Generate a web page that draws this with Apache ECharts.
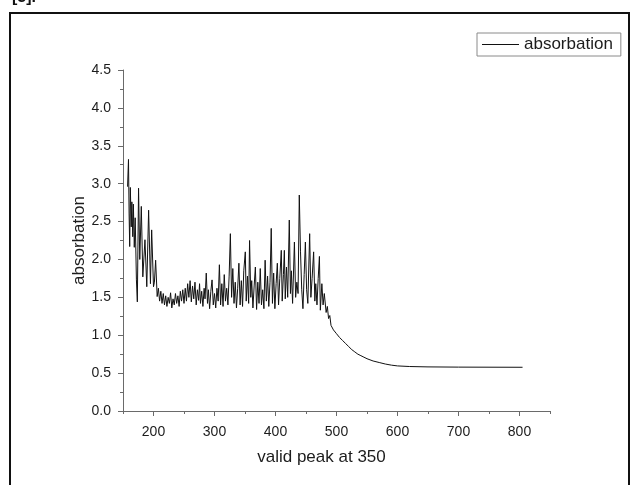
<!DOCTYPE html>
<html>
<head>
<meta charset="utf-8">
<script src="https://cdn.jsdelivr.net/npm/echarts@6/dist/echarts.min.js"></script>
<style>
html,body{margin:0;padding:0;background:#fff;}
#chart{width:632px;height:485px;}
</style>
</head>
<body>
<div id="chart"></div>
<script>
// ---- data ----
const seriesName = 'absorbation';
const xAxisTitle = 'valid peak at 350';
const yAxisTitle = 'absorbation';
const xMajorTicks = [200, 300, 400, 500, 600, 700, 800];
const xMinorTicks = [150, 250, 350, 450, 550, 650, 750, 850];

const wavelength = [
  157.5,159,160,161,162,163.5,164.5,166,167,168.5,170,172,173.5,175.5,177.5,180,182.5,186,189,192,195,197,200,201.5,203.5,206,208,
  210,212,214,216,218,220,222,224,226,228,230,232,234,236,238,240,242,244,246,248,250,252,254,256,258,260,262,264,266,268,270,
  272,274,275.5,277,279,281,283,284.5,286.5,288.5,290,292,294,296,298,300,302,304,306,308,310,312,314,316,318,320,322,324,326,
  328,330,332,334,336,338,340,342,344,346,348,350.5,352,354,356,357.5,359.5,361,363,365,367,369,371,373,375,377,379,381,383,
  385,387,389,391,393,395,397,399,401,403,405,407,409.5,411,413,414.5,416,418,420,422.6,424.5,426,428,431,433,435,437,439,441,
  443,445,447,449,451,453,456,458,460,462.5,464.5,466,468,470,472,473.5,476,478,480,481.6,483,485,487,489,491,493,495,497,
  500,505,510,515,520,525,530,535,540,545,550,560,570,580,590,600,620,650,700,750,805
];
const absorbance = [
  2.96,3.32,2.60,2.17,2.95,2.43,2.76,2.30,2.73,2.16,2.55,1.73,1.44,2.94,2.00,2.70,1.77,2.26,1.64,2.65,1.68,2.39,1.64,1.70,1.99,1.51,1.62,
  1.45,1.58,1.42,1.55,1.40,1.52,1.38,1.50,1.42,1.56,1.36,1.48,1.40,1.55,1.42,1.52,1.38,1.58,1.45,1.60,1.42,1.62,1.45,1.68,1.50,1.72,1.44,1.65,1.48,1.70,1.40,
  1.60,1.46,1.68,1.42,1.58,1.38,1.62,1.48,1.82,1.42,1.60,1.35,1.58,1.73,1.40,1.55,1.36,1.62,1.45,1.93,1.40,1.68,1.38,1.80,1.45,1.62,1.40,1.78,2.34,
  1.50,1.88,1.42,1.70,1.36,1.62,1.95,1.40,1.72,1.38,1.85,2.10,1.45,1.78,1.42,2.25,1.50,1.72,1.36,1.65,1.90,1.34,1.70,1.42,1.88,1.40,1.60,1.35,1.99,
  1.45,1.78,1.38,1.70,2.41,1.42,1.82,1.35,1.68,1.95,1.40,1.75,2.12,1.45,1.80,2.12,1.48,1.90,1.50,2.52,1.55,1.85,1.42,2.23,1.50,1.70,1.55,2.85,2.10,
  1.60,1.35,1.80,2.23,1.60,1.42,2.34,1.50,1.75,2.10,1.45,1.68,1.40,1.75,2.04,1.33,1.68,1.40,1.55,1.53,1.30,1.38,1.22,1.26,1.13,1.15,1.07,1.07,
  1.02,0.97,0.93,0.89,0.85,0.81,0.78,0.75,0.73,0.71,0.69,0.66,0.64,0.62,0.605,0.595,0.587,0.582,0.579,0.578,0.577
];

const seriesData = wavelength.map((w, i) => [w, absorbance[i]]);

const chart = echarts.init(document.getElementById('chart'), null, {renderer: 'canvas'});
const axisGrey = '#6a6a6a';
const textCol = '#1c1c1c';
const fontFam = '"Liberation Sans", Arial, Helvetica, sans-serif';

chart.setOption({
  animation: false,
  backgroundColor: '#ffffff',
  grid: {left: 123, right: 82, top: 70, bottom: 74, containLabel: false},
  legend: {
    show: true,
    left: 477, top: 33,
    data: [seriesName],
    icon: 'rect',
    itemWidth: 37, itemHeight: 1,
    itemGap: 6,
    borderColor: '#8a8a8a', borderWidth: 1,
    padding: [3, 8, 3, 5],
    textStyle: {fontFamily: fontFam, fontSize: 17, color: textCol, padding: [0,0,0,0]}
  },
  graphic: [
    {type: 'rect', shape: {x: 10, y: 13, width: 619, height: 490}, style: {fill: 'none', stroke: '#111', lineWidth: 2}, silent: true},
    {type: 'text', x: 12, y: 6, style: {text: '[5].', font: 'bold 16px ' + fontFam, fill: '#111', verticalAlign: 'bottom'}, silent: true}
  ],
  xAxis: [{
    type: 'value', min: 150, max: 850, interval: 50,
    name: xAxisTitle, nameLocation: 'middle', nameGap: 38, nameMoveOverlap: false,
    nameTextStyle: {fontFamily: fontFam, fontSize: 17, color: textCol, padding: [0, 30, 0, 0]},
    axisLine: {show: true, lineStyle: {color: axisGrey, width: 1}},
    axisTick: {show: true, length: 5, lineStyle: {color: axisGrey}, customValues: xMajorTicks},
    axisLabel: {show: true, margin: 14, fontFamily: fontFam, fontSize: 14, color: textCol, customValues: xMajorTicks},
    splitLine: {show: false}
  }, {
    type: 'value', min: 150, max: 850, interval: 50, position: 'bottom',
    axisLine: {show: false},
    axisTick: {show: true, length: 3, lineStyle: {color: axisGrey}, customValues: xMinorTicks},
    axisLabel: {show: false},
    splitLine: {show: false}
  }],
  yAxis: {
    type: 'value', min: 0, max: 4.5, interval: 0.5,
    name: yAxisTitle, nameLocation: 'middle', nameGap: 35, nameMoveOverlap: false,
    nameTextStyle: {fontFamily: fontFam, fontSize: 17, color: textCol},
    axisLine: {show: true, lineStyle: {color: axisGrey, width: 1}},
    axisTick: {show: true, length: 5, lineStyle: {color: axisGrey}},
    minorTick: {show: true, splitNumber: 2, length: 3, lineStyle: {color: axisGrey}},
    axisLabel: {show: true, margin: 12, fontFamily: fontFam, fontSize: 14, color: textCol,
      formatter: v => v.toFixed(1)},
    splitLine: {show: false},
    minorSplitLine: {show: false}
  },
  series: [{
    name: seriesName,
    type: 'line',
    xAxisIndex: 0,
    data: seriesData,
    showSymbol: false,
    symbol: 'none',
    lineStyle: {color: '#111111', width: 1},
    itemStyle: {color: '#111111'},
    sampling: null
  }]
});
</script>
</body>
</html>
